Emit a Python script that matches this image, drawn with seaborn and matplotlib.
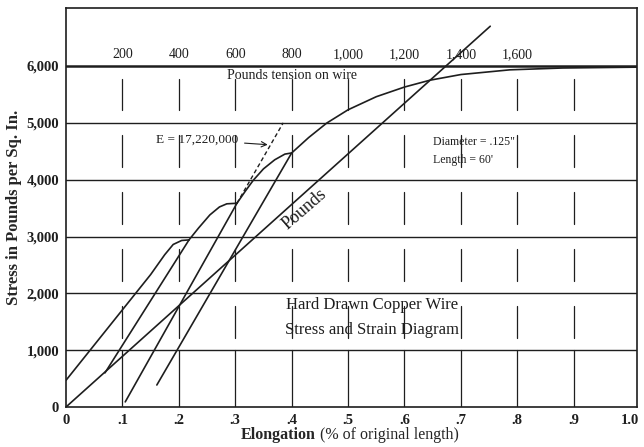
import matplotlib
matplotlib.use("Agg")
import matplotlib.pyplot as plt
import seaborn as sns
import numpy as np
import pandas as pd

sns.set_theme(style="white")
plt.rcParams["font.family"] = ["Liberation Serif", "DejaVu Serif"]

INK = "#1e1e1e"

# Elongation (% of original length) vs stress (lb per sq. in.)
pounds_x = [0.0, 0.752]
pounds_y = [0, 6700]

# first loading, up to the first yield knee
load1_x = [0.0, 0.05, 0.10, 0.15, 0.175, 0.19, 0.205, 0.218]
load1_y = [470, 1090, 1710, 2330, 2680, 2860, 2930, 2940]

# elastic release / reload lines
release1_x = [0.069, 0.218]
release1_y = [600, 2940]
release2_x = [0.105, 0.303]
release2_y = [90, 3585]
release3_x = [0.161, 0.400]
release3_y = [387, 4470]

# plastic reloading beyond each previous maximum
load2_x = [0.218, 0.235, 0.255, 0.272, 0.285, 0.303]
load2_y = [2940, 3150, 3380, 3520, 3575, 3585]
load3_x = [0.303, 0.318, 0.332, 0.35, 0.37, 0.388, 0.400]
load3_y = [3585, 3800, 3990, 4190, 4350, 4450, 4470]
envelope_x = [0.400, 0.43, 0.462, 0.50, 0.55, 0.60, 0.645, 0.70, 0.787, 0.88, 1.012]
envelope_y = [4470, 4740, 4995, 5230, 5460, 5630, 5750, 5850, 5933, 5965, 5980]

# modulus line, extension of the second release line
modulus_x = [0.303, 0.385]
modulus_y = [3585, 5000]

x_ticks = [0.0, 0.1, 0.2, 0.3, 0.4, 0.5, 0.6, 0.7, 0.8, 0.9, 1.0]
x_tick_labels = ["0", ".1", ".2", ".3", ".4", ".5", ".6", ".7", ".8", ".9", "1.0"]
y_ticks = [0, 1000, 2000, 3000, 4000, 5000, 6000]
y_tick_labels = ["0", "1,000", "2,000", "3,000", "4,000", "5,000", "6,000"]

tension_pos = [0.1, 0.2, 0.3, 0.4, 0.5, 0.6, 0.7, 0.8]
tension_labels = ["200", "400", "600", "800", "1,000", "1,200", "1,400", "1,600"]

fig = plt.figure(figsize=(6.44, 4.47), dpi=100)
ax = fig.add_axes([0.1025, 0.0895, 0.8865, 0.8925])
ax.set_xlim(0, 1.012)
ax.set_ylim(0, 7020)

# ruled background: full horizontals, broken verticals
for yv in y_ticks[1:]:
    ax.axhline(yv, color=INK, lw=1.0 if yv < 6000 else 1.8, zorder=1)
for xv in x_ticks[1:-1]:
    ax.plot([xv, xv], [0, 1000], color=INK, lw=0.9, zorder=1)
    for lo in range(1000, 6000, 1000):
        ax.plot([xv, xv], [lo + 220, lo + 780], color=INK, lw=0.9, zorder=1)

curves = [
    (pounds_x, pounds_y),
    (load1_x, load1_y),
    (release1_x, release1_y),
    (load2_x, load2_y),
    (release2_x, release2_y),
    (load3_x, load3_y),
    (release3_x, release3_y),
    (envelope_x, envelope_y),
]
for cx, cy in curves:
    sns.lineplot(x=cx, y=cy, ax=ax, color=INK, lw=1.2, sort=False,
                 estimator=None, zorder=3)
sns.lineplot(x=modulus_x, y=modulus_y, ax=ax, color=INK, lw=1.0, sort=False,
             estimator=None, linestyle=(0, (3, 2)), zorder=3)

ax.set_xticks(x_ticks)
ax.set_xticklabels(x_tick_labels, fontsize=10.5, fontweight="bold")
ax.set_yticks(y_ticks)
ax.set_yticklabels(y_tick_labels, fontsize=10.5, fontweight="bold")
ax.tick_params(axis="both", length=3, pad=2, colors=INK)
for sp in ax.spines.values():
    sp.set_color(INK)
    sp.set_linewidth(1.2)

ax.set_ylabel("Stress in Pounds per Sq. In.", fontsize=12, fontweight="bold",
              labelpad=3)
fig.text(0.49, 0.018, "Elongation", fontsize=11.5, fontweight="bold", ha="right")
fig.text(0.497, 0.018, "(% of original length)", fontsize=11.5, ha="left")

for xp, lab in zip(tension_pos, tension_labels):
    ax.text(xp, 6200, lab, fontsize=10, ha="center", va="center", color=INK)
ax.text(0.40, 5840, "Pounds tension on wire", fontsize=10, ha="center",
        va="center", color=INK)

ax.annotate("E = 17,220,000", xy=(0.3625, 4612), xytext=(0.16, 4700),
            fontsize=9.5, va="center", ha="left", color=INK,
            arrowprops=dict(arrowstyle="->", color=INK, lw=0.8))

ax.text(0.65, 4665, 'Diameter = .125"', fontsize=8.5, va="center", color=INK)
ax.text(0.65, 4350, "Length = 60'", fontsize=8.5, va="center", color=INK)

ax.text(0.422, 3480, "Pounds", fontsize=13, rotation=41, ha="center",
        va="center", color=INK)

ax.text(0.543, 1800, "Hard Drawn Copper Wire", fontsize=12, ha="center",
        va="center", color=INK)
ax.text(0.543, 1360, "Stress and Strain Diagram", fontsize=12, ha="center",
        va="center", color=INK)

fig.savefig("out.png", dpi=100, facecolor="white")
